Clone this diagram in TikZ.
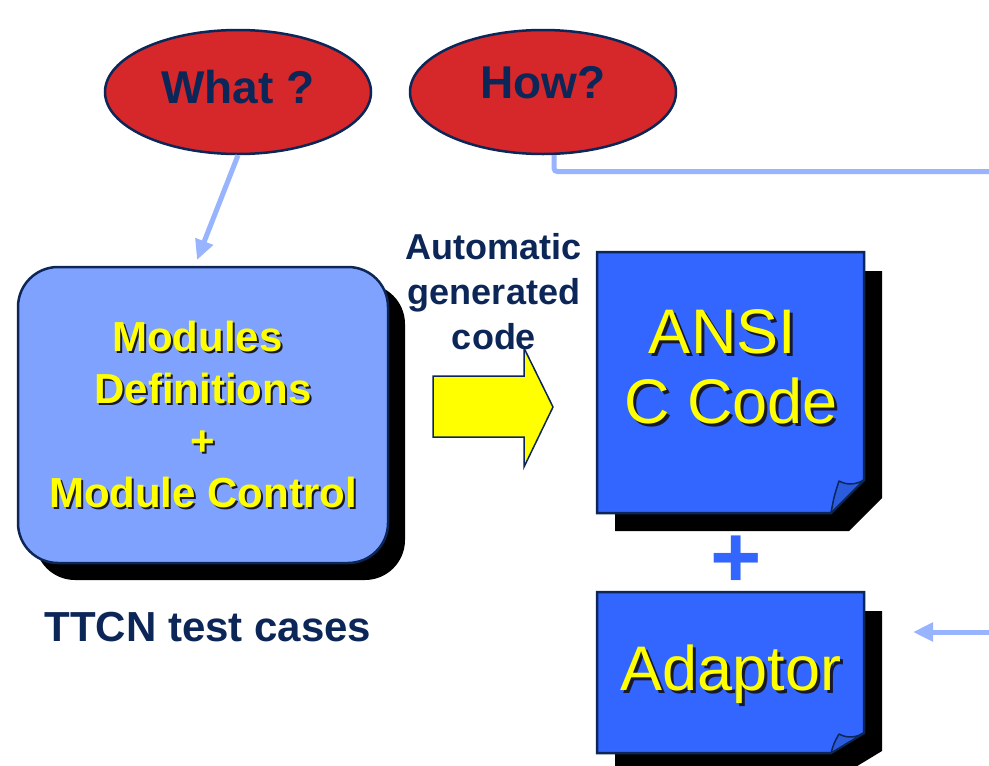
\documentclass[tikz,border=0pt]{standalone}
\usepackage{fontspec}
\setmainfont{Liberation Sans}
\usetikzlibrary{arrows.meta,shapes.geometric,shadows,calc}

\definecolor{navy}{RGB}{12,38,88}
\definecolor{bubblered}{RGB}{214,40,42}
\definecolor{modfill}{RGB}{128,162,255}
\definecolor{wire}{RGB}{152,180,255}
\definecolor{notefill}{RGB}{51,102,255}
\definecolor{foldfill}{RGB}{44,92,222}
\definecolor{hilite}{RGB}{255,255,0}
\definecolor{txtshade}{RGB}{25,25,45}

% yellow lettering with a dark offset copy behind it
\newcommand\shadedtext[2][2pt]{\rlap{\kern#1\raisebox{-#1}{\textcolor{txtshade}{#2}}}#2}

% sheet with a curled lower right corner and a hard black shadow
% #1,#2 = top left, #3,#4 = bottom right, #5 = height of the curl
\newcommand\notebox[5]{%
  \fill[black] (#1+18,#2+19) -- (#3+18,#2+19) -- (#3+18,#4+18-#5) -- (#3-15,#4+18) -- (#1+18,#4+18) -- cycle;
  \filldraw[notebody] (#1,#2) -- (#3,#2) -- (#3,#4-#5) -- (#3-33,#4) -- (#1,#4) -- cycle;
  \filldraw[notefold] (#3-33,#4) .. controls (#3-30,#4-#5*0.5) .. (#3-25,#4-#5+1)
     .. controls (#3-16,#4-#5+6) and (#3-7,#4-#5+4) .. (#3,#4-#5) -- cycle;
}

\begin{document}
\begin{tikzpicture}[x=1pt,y=-1pt,
  bubble/.style={ellipse, draw=navy, line width=2.5pt, fill=bubblered,
    minimum width=266pt, minimum height=124pt, inner sep=0pt, text=navy,
    font=\fontsize{46}{50}\selectfont\bfseries},
  wirearrow/.style={draw=wire, line width=5pt, -{Triangle[length=20pt,width=18pt]}},
  wireline/.style={draw=wire, line width=5pt, rounded corners=3pt},
  modbox/.style={rectangle, rounded corners=40pt, draw=navy, line width=2.5pt,
    fill=modfill, minimum width=370pt, minimum height=296pt, align=center,
    text=hilite, font=\fontsize{42}{52}\selectfont\bfseries,
    drop shadow={shadow xshift=17pt, shadow yshift=-17pt, fill=black, opacity=1}},
  notebody/.style={fill=notefill, draw=navy, line width=2.5pt, line join=miter},
  notefold/.style={fill=foldfill, draw=navy, line width=1.5pt, line join=round},
  notetext/.style={text=hilite, align=center, inner sep=0pt,
    font=\fontsize{63}{70}\selectfont},
  caption/.style={text=navy, align=center, inner sep=0pt}
]
\useasboundingbox (0,0) rectangle (989,766);
\clip (0,0) rectangle (989,766);
\fill[white] (0,0) rectangle (989,766);

% question bubbles
\node[bubble, text depth=10pt] (what) at (238,92) {What ?};
\node[bubble, text depth=20pt] (how) at (543,92) {How?};

% TTCN module block
\node[modbox] (mod) at (203,415)
  {\shadedtext{Modules}\hspace*{11pt}\\\shadedtext{Definitions}\\\shadedtext{+}\\\shadedtext{Module Control}};
\node[caption, font=\fontsize{42}{46}\selectfont\bfseries] (ttcn) at (208,627) {TTCN test cases};

% generation arrow
\filldraw[fill=hilite, draw=navy, line width=1.5pt, line join=miter]
  (433,376) -- (524,376) -- (524,348) -- (553,407) -- (524,467) -- (524,437) -- (433,437) -- cycle;
\node[caption, font=\fontsize{36}{45}\selectfont\bfseries] (autolbl) at (494,292)
  {Automatic\\generated\\code};

% generated code and adaptor sheets
\notebox{597}{252}{864}{513}{33}
\notebox{597}{592}{864}{753}{20}
\node[notetext] (ansi) at (731,368)
  {\shadedtext[3pt]{ANSI}\hspace*{17pt}\\\shadedtext[3pt]{C Code}};
\node[notetext, anchor=base] (adaptor) at (731,690) {\shadedtext[3pt]{Adaptor}};
\node[text=notefill, inner sep=0pt, font=\fontsize{88}{90}\selectfont\bfseries] (plus) at (736,562) {+};

% connectors
\coordinate (whatin) at (197,260);
\draw[wirearrow] (what.south) -- (whatin);
\coordinate (howexit) at (995,171.5);
\draw[wireline] (how.-80) |- (howexit);
\coordinate (adfeed) at (995,632);
\coordinate (adtip) at (913,632);
\draw[wirearrow] (adfeed) -- (adtip);
\end{tikzpicture}
\end{document}
